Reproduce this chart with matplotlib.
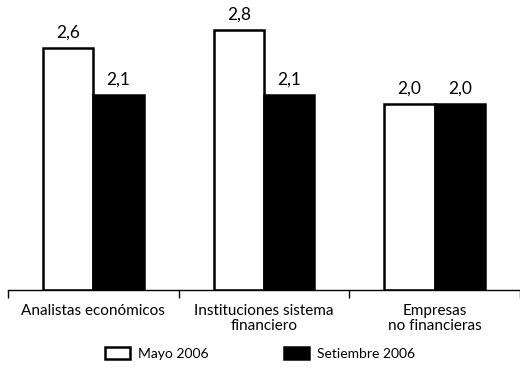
import matplotlib.pyplot as plt
import numpy as np

categories = ["Analistas económicos", "Instituciones sistema\nfinanciero", "Empresas\nno financieras"]
mayo = [2.6, 2.8, 2.0]
setiembre = [2.1, 2.1, 2.0]
series_names = ["Mayo 2006", "Setiembre 2006"]

plt.rcParams['font.family'] = ['Lato', 'DejaVu Sans']

fig = plt.figure(figsize=(5.2, 3.72), dpi=100)
ax = fig.add_axes([8 / 520, 82 / 372, 512 / 520, 290 / 372])

x = np.arange(len(categories)) + 0.5
w = 0.295
b1 = ax.bar(x - w / 2, mayo, w, color="white", edgecolor="black", linewidth=1.8, label=series_names[0])
b2 = ax.bar(x + w / 2, setiembre, w, color="black", edgecolor="black", linewidth=1.8, label=series_names[1])

for bars, vals in ((b1, mayo), (b2, setiembre)):
    for r, v in zip(bars, vals):
        ax.text(r.get_x() + r.get_width() / 2, v + 0.08, f"{v:.1f}".replace(".", ","),
                ha="center", va="bottom", fontsize=12.5)

ax.set_xlim(0, 3)
ax.set_ylim(0, 3.12)
ax.set_xticks([0, 1, 2, 3])
ax.set_xticklabels([])
ax.set_xticks(x, minor=True)
ax.set_xticklabels(categories, minor=True, fontsize=11, linespacing=1.1)
ax.tick_params(axis="x", which="major", length=6, width=1, direction="out")
ax.tick_params(axis="x", which="minor", length=0, pad=10)
ax.set_yticks([])
for s in ("top", "right", "left"):
    ax.spines[s].set_visible(False)
ax.spines["bottom"].set_linewidth(1)

fig.legend(handles=[b1, b2], labels=series_names, loc="lower center", ncol=2,
           bbox_to_anchor=(0.5, 0.0), frameon=False, fontsize=10,
           handlelength=1.8, handleheight=1.0, handletextpad=0.6, columnspacing=5.4)

fig.savefig("out.png", dpi=100)
